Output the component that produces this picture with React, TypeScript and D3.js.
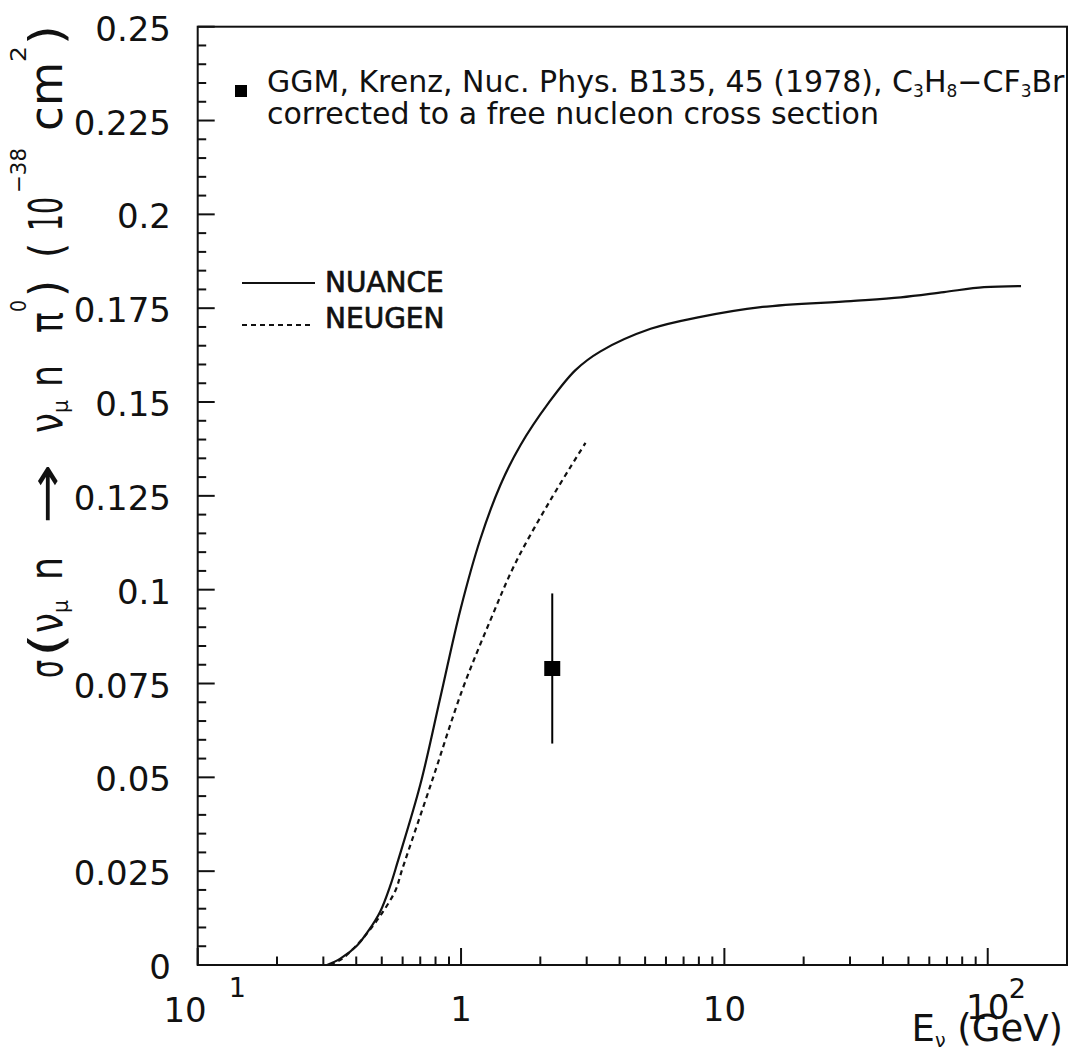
import React from "react";
import * as d3 from "d3";

// NUANCE curve (solid)
const nuanceEnergy = [0.31, 0.348, 0.403, 0.444, 0.493, 0.539, 0.573, 0.7, 0.834, 0.994, 1.184, 1.411, 1.681, 2.147, 2.72, 3.386, 5.246, 8.126, 13.74, 30.2, 46.8, 68.2, 96.8, 133.8];
const nuanceSigma = [0, 0.0017, 0.0052, 0.009, 0.0142, 0.0212, 0.0272, 0.048, 0.0712, 0.0946, 0.1135, 0.1279, 0.1385, 0.1497, 0.1585, 0.1635, 0.1695, 0.1727, 0.1753, 0.1769, 0.1779, 0.1793, 0.1806, 0.1809];

// NEUGEN curve (dashed)
const neugenEnergy = [0.318, 0.354, 0.407, 0.444, 0.502, 0.563, 0.598, 0.778, 1.011, 1.293, 1.609, 2.186, 2.969];
const neugenSigma = [0, 0.0017, 0.0057, 0.0088, 0.0139, 0.0198, 0.0255, 0.0493, 0.0733, 0.0919, 0.1071, 0.1239, 0.1391];

// GGM data point
const ggmEnergy = [2.22];
const ggmSigma = [0.079];
const ggmError = [0.02];

// Axis ticks
const yTickValues = [0, 0.025, 0.05, 0.075, 0.1, 0.125, 0.15, 0.175, 0.2, 0.225, 0.25];
const yTickLabels = ["0", "0.025", "0.05", "0.075", "0.1", "0.125", "0.15", "0.175", "0.2", "0.225", "0.25"];
const xTickValues = [0.1, 1, 10, 100];
const xTickBase = ["10", "1", "10", "10"];
const xTickSup = ["1", "", "", "2"];

const FONT = "'DejaVu Sans', sans-serif";

export default function App() {
  const W = 1075;
  const H = 1055;
  const left = 197.7;
  const right = 1067;
  const top = 26.7;
  const bottom = 965;

  const x = d3.scaleLog().domain([0.1, 200]).range([left, right]);
  const y = d3.scaleLinear().domain([0, 0.25]).range([bottom, top]);

  const line = d3
    .line<[number, number]>()
    .x((d) => x(d[0]))
    .y((d) => y(d[1]))
    .curve(d3.curveCatmullRom.alpha(0.5));

  const nuance: [number, number][] = nuanceEnergy.map((e, i) => [e, nuanceSigma[i]]);
  const neugen: [number, number][] = neugenEnergy.map((e, i) => [e, neugenSigma[i]]);

  // minor ticks
  const yMinor: number[] = [];
  for (let i = 0; i <= 50; i++) {
    if (i % 5 !== 0) yMinor.push(i * 0.005);
  }
  const xMinor: number[] = [];
  [0.1, 1, 10, 100].forEach((d) => {
    for (let k = 2; k <= 9; k++) {
      const v = d * k;
      if (v < 199.9) xMinor.push(v);
    }
  });

  const majorLen = 17;
  const minorLen = 8.5;

  // y-axis title pieces: [text, screenYStart(bottom), screenYEnd(top), kind]
  const titlePieces: [string, number, number, string][] = [
    ["σ", 678, 660, "n"],
    ["(", 657, 633, "n"],
    ["ν", 633, 613, "n"],
    ["μ", 613, 600, "sub"],
    ["n", 580, 557, "n"],
    ["→", 524, 463, "n"],
    ["ν", 433, 413, "n"],
    ["μ", 413, 400, "sub"],
    ["n", 387, 365, "n"],
    ["π", 333, 312, "n"],
    ["0", 312, 300, "sup"],
    [")", 297, 280, "n"],
    ["(", 258, 243, "n"],
    ["10", 231, 197, "n"],
    ["−38", 193, 148, "sup"],
    ["cm", 131, 62, "n"],
    ["2", 62, 46, "sup"],
    [")", 45, 25, "n"],
  ];

  return (
    <svg
      width={W}
      height={H}
      style={{ position: "absolute", left: 0, top: 0, display: "block", background: "#fff" }}
      fontFamily={FONT}
    >
      <rect x={0} y={0} width={W} height={H} fill="#fff" />

      {/* curves */}
      <path d={line(nuance) || ""} fill="none" stroke="#111" strokeWidth={2.2} />
      <path d={line(neugen) || ""} fill="none" stroke="#111" strokeWidth={2.2} strokeDasharray="5,4" />

      {/* data point */}
      {ggmEnergy.map((e, i) => (
        <g key={"ggm" + i}>
          <line
            x1={x(e)}
            x2={x(e)}
            y1={y(ggmSigma[i] + ggmError[i])}
            y2={y(ggmSigma[i] - ggmError[i])}
            stroke="#000"
            strokeWidth={2}
          />
          <rect x={x(e) - 8} y={y(ggmSigma[i]) - 7.5} width={16} height={15} fill="#000" />
        </g>
      ))}

      {/* frame */}
      <rect x={left} y={top} width={right - left} height={bottom - top} fill="none" stroke="#111" strokeWidth={2} />

      {/* y ticks */}
      {yTickValues.map((v) => (
        <line key={"ym" + v} x1={left} x2={left + majorLen} y1={y(v)} y2={y(v)} stroke="#111" strokeWidth={2} />
      ))}
      {yMinor.map((v) => (
        <line key={"yn" + v} x1={left} x2={left + minorLen} y1={y(v)} y2={y(v)} stroke="#111" strokeWidth={2} />
      ))}
      {yTickValues.map((v, i) => (
        <text key={"yl" + v} x={171} y={y(v) + 14} textAnchor="end" fontSize={34} fill="#111">
          {yTickLabels[i]}
        </text>
      ))}

      {/* x ticks */}
      {xTickValues.map((v) => (
        <line key={"xm" + v} x1={x(v)} x2={x(v)} y1={bottom} y2={bottom - majorLen} stroke="#111" strokeWidth={2} />
      ))}
      {xMinor.map((v) => (
        <line key={"xn" + v} x1={x(v)} x2={x(v)} y1={bottom} y2={bottom - minorLen} stroke="#111" strokeWidth={2} />
      ))}
      {xTickValues.map((v, i) => {
        const cx = x(v);
        if (i === 0) {
          return (
            <g key={"xl" + v}>
              <text x={cx + 9} y={1022} textAnchor="end" fontSize={34} fill="#111">
                {xTickBase[i]}
              </text>
              <text x={cx + 31} y={997} fontSize={27} fill="#111">
                {xTickSup[i]}
              </text>
            </g>
          );
        }
        if (xTickSup[i]) {
          return (
            <g key={"xl" + v}>
              <text x={cx} y={1019} textAnchor="middle" fontSize={34} fill="#111">
                {xTickBase[i]}
              </text>
              <text x={cx + 21} y={998} fontSize={27} fill="#111">
                {xTickSup[i]}
              </text>
            </g>
          );
        }
        return (
          <text key={"xl" + v} x={cx} y={1021} textAnchor="middle" fontSize={34} fill="#111">
            {xTickBase[i]}
          </text>
        );
      })}

      {/* x axis title */}
      <text x={1063} y={1041} textAnchor="end" fontSize={37} fill="#111">
        E
        <tspan fontSize={19} dy={6}>ν</tspan>
        <tspan dy={-6}> (GeV)</tspan>
      </text>

      {/* y axis title */}
      <g transform="translate(62,0) rotate(-90)">
        {titlePieces.map(([t, y0, y1, kind], i) => {
          const len = y0 - y1;
          const fs = kind === "n" ? 46 : 22;
          const off = kind === "sub" ? 6 : kind === "sup" ? -36 : 0;
          return (
            <text
              key={"yt" + i}
              x={-y0}
              y={off}
              fontSize={fs}
              fill="#111"
              textLength={len}
              lengthAdjust="spacingAndGlyphs"
            >
              {t}
            </text>
          );
        })}
      </g>

      {/* data legend */}
      <rect x={235} y={85} width={12} height={12} fill="#000" />
      <text x={267} y={92} fontSize={30} fill="#111">
        GGM, Krenz, Nuc. Phys. B135, 45 (1978), C
        <tspan fontSize={17} dy={5}>3</tspan>
        <tspan dy={-5}>H</tspan>
        <tspan fontSize={17} dy={5}>8</tspan>
        <tspan dy={-5}>−CF</tspan>
        <tspan fontSize={17} dy={5}>3</tspan>
        <tspan dy={-5}>Br</tspan>
      </text>
      <text x={267} y={124} fontSize={30} fill="#111">
        corrected to a free nucleon cross section
      </text>

      {/* line legend */}
      <line x1={242} x2={315} y1={283} y2={283} stroke="#111" strokeWidth={2} />
      <text x={325} y={292} fontSize={28} fill="#111" stroke="#111" strokeWidth={0.7}>NUANCE</text>
      <line x1={242} x2={312} y1={325} y2={325} stroke="#111" strokeWidth={2} strokeDasharray="5,4" />
      <text x={325} y={328} fontSize={28} fill="#111" stroke="#111" strokeWidth={0.7}>NEUGEN</text>
    </svg>
  );
}
